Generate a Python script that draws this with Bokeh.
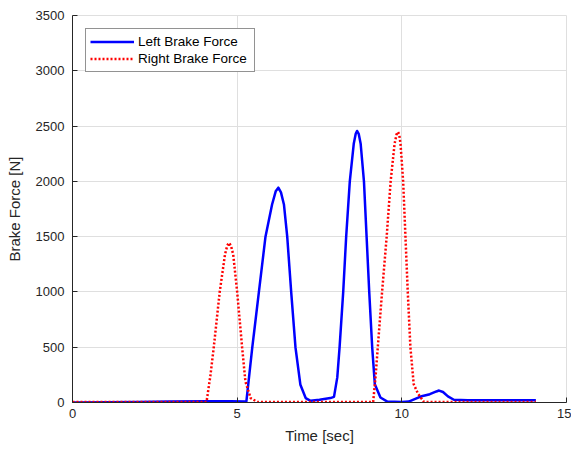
from bokeh.plotting import figure
from bokeh.models import Range1d, Legend, LegendItem, FixedTicker
from bokeh.embed import file_html
from bokeh.resources import INLINE

# Left brake force (blue, solid)
left_t = [0.0, 1.0, 2.0, 3.0, 4.0, 4.8, 5.25, 5.28, 5.46, 5.66, 5.86, 6.06, 6.17, 6.25, 6.33, 6.42, 6.52,
          6.64, 6.77, 6.92, 7.08, 7.23, 7.5, 7.83, 7.94, 8.04, 8.11, 8.22, 8.31, 8.42, 8.54, 8.60, 8.64,
          8.69, 8.75, 8.85, 8.93, 9.01, 9.10, 9.18, 9.35, 9.56, 10.0, 10.21, 10.57, 10.85, 11.05,
          11.13, 11.25, 11.4, 11.58, 12.0, 13.0, 14.07]
left_f = [0, 2, 5, 8, 12, 12, 8, 10, 500, 1000, 1500, 1791, 1910, 1943, 1900, 1791, 1500,
          1000, 500, 160, 40, 15, 25, 40, 51, 227, 500, 1000, 1500, 2000, 2340, 2430, 2456,
          2430, 2340, 2000, 1500, 1000, 500, 166, 45, 8, 5, 8, 54, 75, 100,
          108, 95, 55, 25, 20, 20, 20]

# Right brake force (red, dotted)
right_t = [0.0, 2.0, 4.07, 4.19, 4.29, 4.47, 4.63, 4.70, 4.75, 4.81, 4.88, 5.0, 5.15, 5.25, 5.41, 5.61, 7.0,
           9.13, 9.20, 9.27, 9.40, 9.54, 9.66, 9.78, 9.84, 9.88, 9.92, 9.96, 10.04, 10.11, 10.18, 10.26,
           10.36, 10.49, 10.67, 12.0, 14.07]
right_f = [5, 5, 5, 250, 500, 1000, 1338, 1420, 1444, 1420, 1338, 1000, 500, 190, 40, 5, 5,
           5, 227, 500, 1000, 1500, 2000, 2340, 2425, 2447, 2425, 2340, 2000, 1500, 1000, 500,
           166, 80, 5, 5, 5]

x_ticks = [0, 5, 10, 15]
y_ticks = [0, 500, 1000, 1500, 2000, 2500, 3000, 3500]

FONT = "Liberation Sans"
TXT = "#262626"
GRID = "#dfdfdf"

p = figure(width=571, height=452, output_backend="svg", toolbar_location=None,
           x_range=Range1d(0, 15), y_range=Range1d(0, 3500),
           min_border_left=72, min_border_right=5, min_border_top=15, min_border_bottom=50,
           frame_width=494, frame_height=387)
p.background_fill_color = "white"
p.border_fill_color = "white"
p.outline_line_color = GRID
p.outline_line_width = 1

l1 = p.line(left_t, left_f, line_color="#0000ff", line_width=2.5, line_join="round")
l2 = p.line(right_t, right_f, line_color="#ff0000", line_width=2.5, line_dash="2 2")

for ax, ticks in ((p.xaxis, x_ticks), (p.yaxis, y_ticks)):
    ax.ticker = FixedTicker(ticks=ticks)
    ax.major_tick_in = 5
    ax.major_tick_out = 0
    ax.minor_tick_line_color = None
    ax.axis_line_color = TXT
    ax.major_tick_line_color = TXT
    ax.major_label_text_font = FONT
    ax.major_label_text_font_size = "13px"
    ax.major_label_text_color = TXT
    ax.axis_label_text_font = FONT
    ax.axis_label_text_font_size = "15px"
    ax.axis_label_text_font_style = "normal"
    ax.axis_label_text_color = TXT

p.xaxis.axis_label = "Time [sec]"
p.yaxis.axis_label = "Brake Force [N]"
p.xaxis.major_label_standoff = 6
p.yaxis.major_label_standoff = 8
p.xaxis.axis_label_standoff = 6
p.yaxis.axis_label_standoff = 10

p.xgrid.ticker = FixedTicker(ticks=x_ticks)
p.ygrid.ticker = FixedTicker(ticks=y_ticks)
p.grid.grid_line_color = GRID
p.grid.grid_line_width = 1

legend = Legend(items=[LegendItem(label="Left Brake Force", renderers=[l1]),
                       LegendItem(label="Right Brake Force", renderers=[l2])],
                location="top_left")
legend.label_text_font = FONT
legend.label_text_font_size = "13.5px"
legend.label_text_color = "black"
legend.border_line_color = "#262626"
legend.border_line_width = 1
legend.glyph_width = 44
legend.glyph_height = 17
legend.label_height = 17
legend.label_width = 112
legend.label_standoff = 4
legend.spacing = 0
legend.padding = 4
legend.margin = 13
legend.background_fill_alpha = 1
p.add_layout(legend)

open("out.html", "w").write(file_html(p, INLINE))
